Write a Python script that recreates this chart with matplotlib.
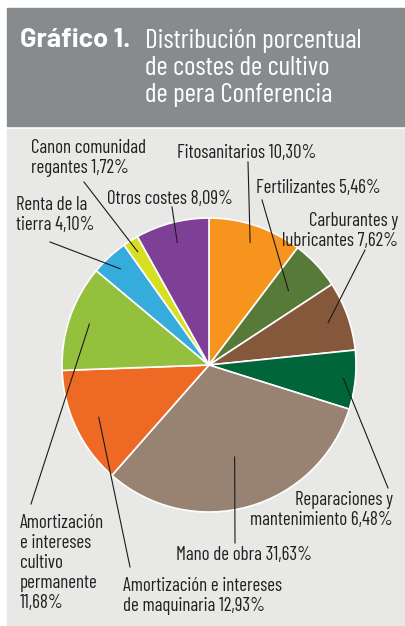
import matplotlib.pyplot as plt
from matplotlib.patches import Rectangle
import numpy as np

# data
labels = ["Fitosanitarios 10,30%", "Fertilizantes 5,46%", "Carburantes y\nlubricantes 7,62%",
          "Reparaciones y\nmantenimiento 6,48%", "Mano de obra 31,63%",
          "Amortización e intereses\nde maquinaria 12,93%",
          "Amortización\ne intereses\ncultivo\npermanente\n11,68%",
          "Renta de la\ntierra 4,10%", "Canon comunidad\nregantes 1,72%", "Otros costes 8,09%"]
values = [10.30, 5.46, 7.62, 6.48, 31.63, 12.93, 11.68, 4.10, 1.72, 8.09]
colors = ["#F7941D", "#587A38", "#85583C", "#00663A", "#988272",
          "#EE6A24", "#93C13E", "#35ACDB", "#D7DF23", "#7E3F96"]

# layout (pixels, y measured from top)
W, H = 405, 626
cx, cy, R = 209, 365, 147
# label anchor x, y, alignment
label_pos = [(177, 153, "left"), (256, 188, "left"), (398, 231, "right"),
             (393, 510, "right"), (176, 555, "left"), (123, 596, "left"),
             (20, 563, "left"), (16, 215, "left"), (31, 158, "left"), (107, 199, "left")]
# outer end of leader, radial fraction of inner end
leader_out = [(248, 162), (262, 200), (365, 250), (388, 488), (235, 543),
              (130, 567), (31, 504), (50, 242), (84, 182), (172, 207)]
leader_r = [0.88, 0.74, 0.86, 0.92, 0.65, 0.83, 0.86, 0.89, 0.91, 0.86]

plt.rcParams['font.family'] = ['Barlow Condensed', 'DejaVu Sans']

fig = plt.figure(figsize=(W / 100, H / 100), dpi=100)
ax = fig.add_axes([0, 0, 1, 1])

# background boxes
ax.add_patch(Rectangle((7, 0), W - 7, H - 126 - 3, color="#E8E9E6", zorder=0))
ax.add_patch(Rectangle((7, H - 126), W - 7, 118, color="#878B8D", zorder=0))

ax.pie(values, colors=colors, startangle=90, counterclock=False,
       center=(cx, H - cy), radius=R, frame=True,
       wedgeprops=dict(edgecolor="white", linewidth=1.2))

# leaders + labels
cum = np.cumsum([0] + values[:-1])
for i, lab in enumerate(labels):
    mid = np.deg2rad(90 - (cum[i] + values[i] / 2) * 3.6)
    xin = cx + leader_r[i] * R * np.cos(mid)
    yin = (H - cy) + leader_r[i] * R * np.sin(mid)
    xo, yo = leader_out[i]
    ax.plot([xin, xo], [yin, H - yo], color="#1A1A1A", lw=0.8, zorder=3)
    x, y, ha = label_pos[i]
    ax.text(x, H - y, lab, ha=ha, va="center", fontsize=13.6, color="#231F20",
            linespacing=1.16, zorder=4)

# title
ax.text(20, H - 47, "Gráfico 1.", color="white", fontsize=19.5, fontweight="bold",
        family="Barlow", va="baseline", ha="left")
ax.text(145, H - 68, "Distribución porcentual\nde costes de cultivo\nde pera Conferencia",
        color="white", fontsize=19.6, va="center", ha="left", linespacing=1.16)

ax.set_xlim(0, W)
ax.set_ylim(0, H)
ax.set_aspect("equal")
ax.axis("off")

fig.savefig("out.png", dpi=100, facecolor="white")
